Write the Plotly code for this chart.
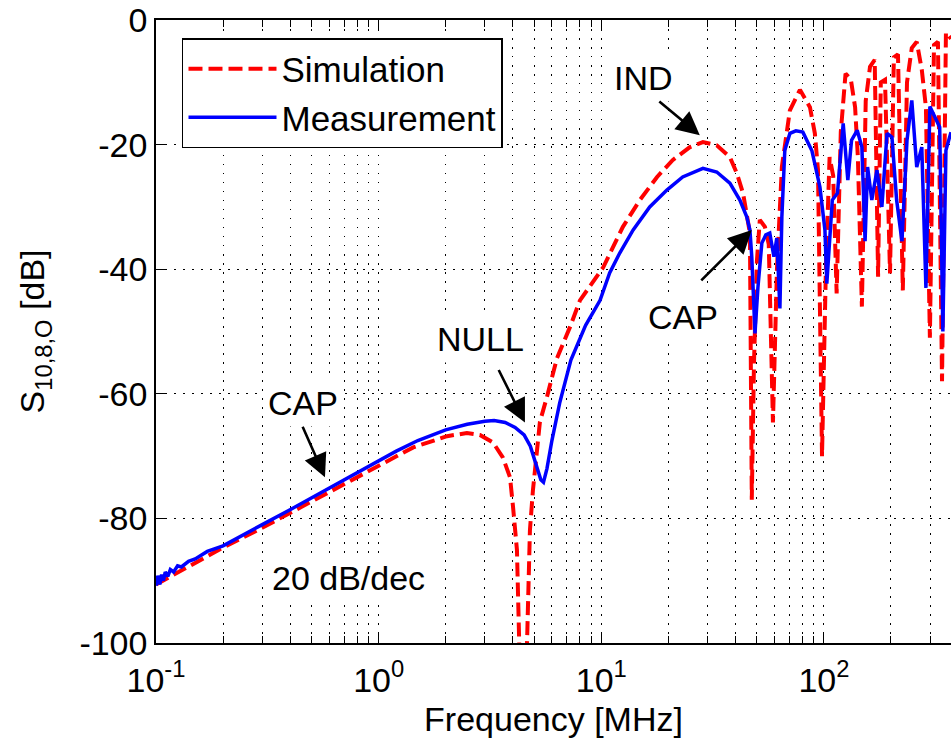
import numpy as np
import plotly.graph_objects as go

# Measured coupling S10,8,O  (frequency in MHz, magnitude in dB)
freq_meas = [0.100, 0.102, 0.104, 0.106, 0.108, 0.110, 0.113, 0.116, 0.120, 0.125,
             0.130, 0.140, 0.150, 0.170, 0.200, 0.250, 0.300, 0.400, 0.500, 0.600,
             0.700, 0.800, 1.00, 1.20, 1.50, 2.00, 2.50, 3.00, 3.30, 3.70,
             4.10, 4.50, 4.80, 5.10, 5.35, 5.50, 5.70, 6.00, 6.50, 7.30,
             8.50, 9.87, 10.9, 12.1, 13.9, 16.5, 19.7, 23.2, 28.6, 33.0,
             37.8, 41.9, 45.0, 46.5, 47.4, 49.0, 50.5, 52.6, 54.8, 57.1,
             59.6, 61.4, 63.4, 64.7, 66.7, 70.3, 74.8, 80.4, 88.3, 95.9,
             101, 103, 109, 115, 122, 128, 133, 141, 148, 153,
             157, 164, 173, 182, 192, 202, 212, 224, 236, 248,
             261, 275, 287, 299, 315, 331, 342, 353, 372]
s_meas = [-90.8, -89.2, -90.6, -89.0, -90.0, -88.6, -89.3, -88.2, -88.6, -87.6,
          -87.8, -86.9, -86.5, -85.3, -84.4, -82.6, -81.0, -78.6, -76.7, -75.2,
          -73.8, -72.7, -70.8, -69.2, -67.5, -65.8, -64.9, -64.4, -64.3, -64.6,
          -65.4, -66.6, -68.4, -71.2, -73.8, -74.2, -72.0, -67.5, -61.5, -54.6,
          -49.0, -45.0, -40.6, -37.4, -33.7, -30.0, -27.3, -25.2, -23.8, -24.4,
          -26.2, -28.9, -31.6, -33.7, -38.0, -50.3, -43.0, -35.8, -34.5, -34.2,
          -38.0, -35.0, -46.3, -31.6, -20.9, -18.2, -17.8, -18.0, -21.0, -26.8,
          -33.7, -42.3, -28.9, -27.8, -16.6, -25.7, -19.3, -17.7, -20.4, -35.5,
          -23.6, -28.9, -24.1, -30.0, -18.2, -18.8, -28.9, -35.5, -19.3, -12.9,
          -23.6, -20.4, -43.0, -13.9, -15.6, -17.2, -50.0, -20.9, -18.0]

# Simulated coupling
freq_sim = [0.100, 0.150, 0.200, 0.300, 0.500, 0.700, 1.00, 1.43, 2.03, 2.49,
            2.85, 3.26, 3.61, 3.89, 4.01, 4.18, 4.45, 4.78, 4.93, 5.14,
            5.30, 5.70, 6.32, 7.23, 8.02, 10.2, 12.5, 14.9, 17.8, 20.9,
            25.0, 28.6, 33.0, 37.8, 40.6, 43.3, 45.0, 46.5, 47.4, 48.5,
            50.0, 51.5, 54.3, 56.5, 59.0, 61.5, 64.7, 70.3, 78.0, 86.5,
            91.0, 94.0, 98.0, 102, 106, 110, 114, 119, 125, 132,
            138, 142, 148, 154, 161, 169, 175, 180, 188, 198,
            206, 215, 226, 236, 248, 261, 275, 287, 299, 312,
            325, 339, 353, 372]
s_sim = [-90.6, -87.2, -84.7, -81.5, -77.3, -74.6, -71.6, -68.6, -66.8, -66.3,
         -66.6, -67.8, -70.2, -73.4, -78.0, -85.1, -125.0, -81.9, -75.5, -69.1,
         -64.5, -60.5, -54.3, -49.3, -45.0, -39.7, -33.2, -28.9, -25.2, -22.5,
         -20.4, -19.6, -20.1, -22.0, -24.6, -27.8, -31.0, -34.2, -77.0, -55.0,
         -38.6, -32.1, -33.2, -36.0, -64.6, -40.0, -23.6, -14.5, -11.2, -14.0,
         -18.2, -24.0, -70.0, -40.0, -22.0, -25.0, -43.9, -18.0, -8.6, -9.5,
         -14.0, -22.0, -46.0, -13.0, -7.5, -6.4, -41.2, -10.0, -9.6, -40.7,
         -6.0, -5.5, -43.4, -10.0, -4.5, -3.5, -8.0, -14.0, -51.0, -4.0,
         -3.5, -58.0, -2.0, -3.0]

# Decade tick labels and the 2..9 subdivisions
major_vals = [0.1, 1, 10, 100]
major_text = ["10<sup>-1</sup>", "10<sup>0</sup>", "10<sup>1</sup>", "10<sup>2</sup>"]
minor_vals = [m * d for d in (0.1, 1, 10, 100) for m in range(2, 10) if m * d < 372]
y_vals = [-100, -80, -60, -40, -20, 0]
y_text = ["-100", "-80", "-60", "-40", "-20", "0"]

FONT = "Liberation Sans, Arial, sans-serif"
FS = 34
GRID_DASH = "1.5px,7.5px"

fig = go.Figure()
fig.add_trace(go.Scatter(
    x=freq_sim, y=s_sim, mode="lines", name="Simulation",
    line=dict(color="#ff0000", width=4, dash="14px,6px"),
))
fig.add_trace(go.Scatter(
    x=freq_meas, y=s_meas, mode="lines", name="Measurement",
    line=dict(color="#0000ff", width=3.5),
))

# Callout labels and their arrows: (text, text freq, text dB, tip freq, tip dB, ax, ay)
callouts = [
    ("CAP", 0.457, -61.4, 0.574, -73.4, -23, -52),
    ("NULL", 2.88, -51.2, 4.54, -64.6, -27, -54),
    ("IND", 15.4, -9.3, 27.7, -18.5, -42, -35),
    ("CAP", 23.2, -47.7, 47.4, -33.7, -52, 52),
]
for text, tf, tdb, af, adb, ax, ay in callouts:
    fig.add_annotation(x=np.log10(tf), y=tdb, text=text, showarrow=False,
                       xanchor="center", yanchor="middle",
                       font=dict(family=FONT, size=FS, color="black"),
                       bgcolor="white", borderpad=4)
    fig.add_annotation(x=np.log10(af), y=adb, text="", showarrow=True,
                       ax=ax, ay=ay, arrowhead=2, arrowsize=1.8,
                       arrowwidth=2.6, arrowcolor="black")

fig.add_annotation(x=np.log10(0.731), y=-89.5, text="20 dB/dec", showarrow=False,
                   xanchor="center", yanchor="middle",
                   font=dict(family=FONT, size=FS, color="black"),
                   bgcolor="white", borderpad=4)

fig.update_layout(
    width=951, height=748,
    margin=dict(l=156, r=0, t=20, b=105, autoexpand=False),
    paper_bgcolor="white", plot_bgcolor="white",
    font=dict(family=FONT, size=FS, color="black"),
    showlegend=True,
    legend=dict(
        x=0.0327, y=0.9711, xanchor="left", yanchor="top",
        bgcolor="white", bordercolor="black", borderwidth=1.5,
        font=dict(family=FONT, size=35, color="black"),
        itemwidth=88, tracegroupgap=0,
    ),
)

fig.update_xaxes(
    type="log", range=[-1, np.log10(372)], automargin=False,
    showline=True, linecolor="black", linewidth=1.5, mirror="allticks",
    ticks="inside", ticklen=10, tickcolor="black", tickwidth=1,
    tickmode="array", tickvals=major_vals, ticktext=major_text,
    ticklabelstandoff=6,
    tickfont=dict(family=FONT, size=FS, color="black"),
    showgrid=True, gridcolor="black", gridwidth=1, griddash=GRID_DASH,
    zeroline=False,
    minor=dict(tickmode="array", tickvals=minor_vals, ticks="inside", ticklen=7,
               tickcolor="black", showgrid=True, gridcolor="black",
               gridwidth=1, griddash=GRID_DASH),
    title=dict(text="Frequency [MHz]", font=dict(family=FONT, size=FS, color="black"),
               standoff=10),
)
fig.update_yaxes(
    range=[-100, 0], automargin=False,
    showline=True, linecolor="black", linewidth=1.5, mirror=False,
    ticks="inside", ticklen=10, tickcolor="black", tickwidth=1,
    tickmode="array", tickvals=y_vals, ticktext=y_text,
    tickfont=dict(family=FONT, size=FS, color="black"),
    showgrid=True, gridcolor="black", gridwidth=1, griddash=GRID_DASH,
    zeroline=False,
    title=dict(text="S<sub>10,8,O</sub> [dB]", font=dict(family=FONT, size=FS, color="black"),
               standoff=24),
)

fig.write_html("out.html")
